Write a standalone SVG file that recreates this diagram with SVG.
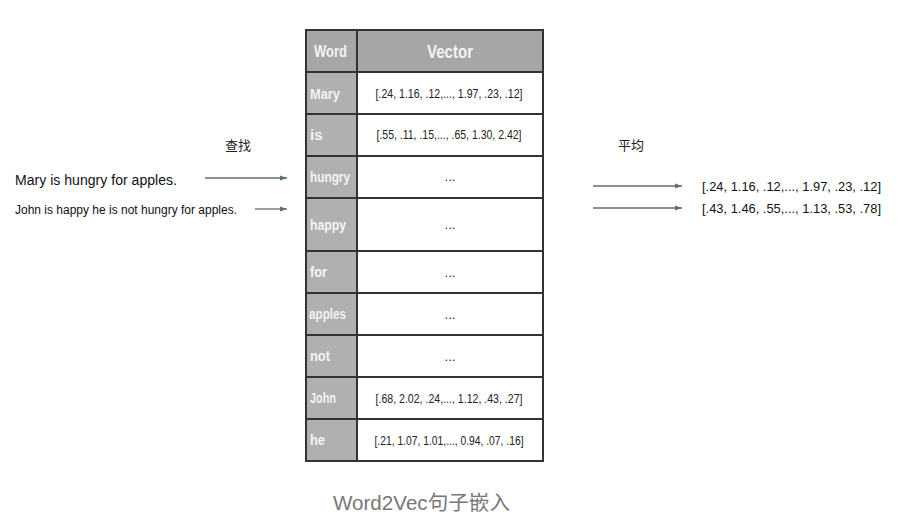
<svg xmlns="http://www.w3.org/2000/svg" width="899" height="529" viewBox="0 0 899 529">
<style>
.bg{fill:#ffffff}
.hd{fill:#a6a6a6;stroke:#333;stroke-width:2}
.wc{fill:#b0b0b0;stroke:#333;stroke-width:2}
.vc{fill:#ffffff;stroke:#333;stroke-width:2}
.ht{font-family:"Liberation Sans",Arial,sans-serif;font-weight:bold;fill:#f4f4f4}
.wt{font-family:"Liberation Sans",Arial,sans-serif;font-size:15px;font-weight:bold;fill:#f4f4f4}
.vt{font-family:"Liberation Sans",Arial,sans-serif;font-size:13px;fill:#222;text-anchor:middle}
.st{font-family:"Liberation Sans",Arial,sans-serif;fill:#111}
.cn{font-family:"Noto Sans CJK SC",sans-serif;font-size:13px;fill:#222}
.rv{font-family:"Liberation Sans",Arial,sans-serif;font-size:13px;fill:#111}
.ar{stroke:#5f6e78;stroke-width:1.3;fill:none;marker-end:url(#ah)}
.cap{font-family:"Liberation Sans","Noto Sans CJK SC",sans-serif;font-size:20px;fill:#777}
</style>
<defs>
<marker id="ah" markerWidth="8" markerHeight="6" refX="7" refY="3" orient="auto" markerUnits="userSpaceOnUse">
<path d="M0,0.5 L7,3 L0,5.5 z" fill="#5f6e78"/>
</marker>
</defs>
<rect class="bg" x="0" y="0" width="899" height="529"/>
<g id="table">
<g id="header">
<rect class="hd" x="306" y="30" width="51" height="42"/>
<rect class="hd" x="357" y="30" width="186" height="42"/>
<text class="ht" x="314" y="57" font-size="16" textLength="33" lengthAdjust="spacingAndGlyphs">Word</text>
<text class="ht" x="450" y="58" font-size="18" text-anchor="middle" textLength="46" lengthAdjust="spacingAndGlyphs">Vector</text>
</g>
<g id="row-mary"><rect class="wc" x="306" y="72" width="51" height="42"/><rect class="vc" x="357" y="72" width="186" height="42"/><text class="wt" x="310" y="99" textLength="30" lengthAdjust="spacingAndGlyphs">Mary</text><text class="vt" x="449" y="98" textLength="147" lengthAdjust="spacingAndGlyphs">[.24, 1.16, .12,..., 1.97, .23, .12]</text></g>
<g id="row-is"><rect class="wc" x="306" y="114" width="51" height="42"/><rect class="vc" x="357" y="114" width="186" height="42"/><text class="wt" x="310" y="140">is</text><text class="vt" x="449" y="139" textLength="145" lengthAdjust="spacingAndGlyphs">[.55, .11, .15,..., .65, 1.30, 2.42]</text></g>
<g id="row-hungry"><rect class="wc" x="306" y="156" width="51" height="42"/><rect class="vc" x="357" y="156" width="186" height="42"/><text class="wt" x="310" y="182" textLength="40" lengthAdjust="spacingAndGlyphs">hungry</text><text class="vt" x="450" y="181">...</text></g>
<g id="row-happy"><rect class="wc" x="306" y="198" width="51" height="53"/><rect class="vc" x="357" y="198" width="186" height="53"/><text class="wt" x="310" y="230" textLength="36" lengthAdjust="spacingAndGlyphs">happy</text><text class="vt" x="450" y="229">...</text></g>
<g id="row-for"><rect class="wc" x="306" y="251" width="51" height="42"/><rect class="vc" x="357" y="251" width="186" height="42"/><text class="wt" x="310" y="277" textLength="17" lengthAdjust="spacingAndGlyphs">for</text><text class="vt" x="450" y="277">...</text></g>
<g id="row-apples"><rect class="wc" x="306" y="293" width="51" height="42"/><rect class="vc" x="357" y="293" width="186" height="42"/><text class="wt" x="309" y="319" textLength="37" lengthAdjust="spacingAndGlyphs">apples</text><text class="vt" x="450" y="319">...</text></g>
<g id="row-not"><rect class="wc" x="306" y="335" width="51" height="42"/><rect class="vc" x="357" y="335" width="186" height="42"/><text class="wt" x="310" y="361" textLength="20" lengthAdjust="spacingAndGlyphs">not</text><text class="vt" x="450" y="361">...</text></g>
<g id="row-john"><rect class="wc" x="306" y="377" width="51" height="42"/><rect class="vc" x="357" y="377" width="186" height="42"/><text class="wt" x="310" y="403" textLength="26" lengthAdjust="spacingAndGlyphs">John</text><text class="vt" x="449" y="403" textLength="147" lengthAdjust="spacingAndGlyphs">[.68, 2.02, .24,..., 1.12, .43, .27]</text></g>
<g id="row-he"><rect class="wc" x="306" y="419" width="51" height="42"/><rect class="vc" x="357" y="419" width="186" height="42"/><text class="wt" x="310" y="445" textLength="15" lengthAdjust="spacingAndGlyphs">he</text><text class="vt" x="449" y="445" textLength="149" lengthAdjust="spacingAndGlyphs">[.21, 1.07, 1.01,..., 0.94, .07, .16]</text></g>
</g>
<g id="sentences">
<text class="st" x="15" y="185" font-size="14" textLength="162" lengthAdjust="spacingAndGlyphs">Mary is hungry for apples.</text>
<text class="st" x="15" y="214" font-size="12" textLength="222" lengthAdjust="spacingAndGlyphs">John is happy he is not hungry for apples.</text>
</g>
<g id="labels">
<text class="cn" x="225" y="150">查找</text>
<text class="cn" x="618" y="150">平均</text>
</g>
<g id="results">
<text class="rv" x="702" y="191" textLength="179" lengthAdjust="spacingAndGlyphs">[.24, 1.16, .12,..., 1.97, .23, .12]</text>
<text class="rv" x="702" y="213" textLength="179" lengthAdjust="spacingAndGlyphs">[.43, 1.46, .55,..., 1.13, .53, .78]</text>
</g>
<g id="connectors">
<line class="ar" x1="205" y1="178" x2="287" y2="178"/>
<line class="ar" x1="255" y1="209" x2="287" y2="209"/>
<line class="ar" x1="593" y1="186" x2="682" y2="186"/>
<line class="ar" x1="593" y1="208" x2="682" y2="208"/>
</g>
<text class="cap" x="333" y="510" textLength="177" lengthAdjust="spacingAndGlyphs">Word2Vec句子嵌入</text>
</svg>
